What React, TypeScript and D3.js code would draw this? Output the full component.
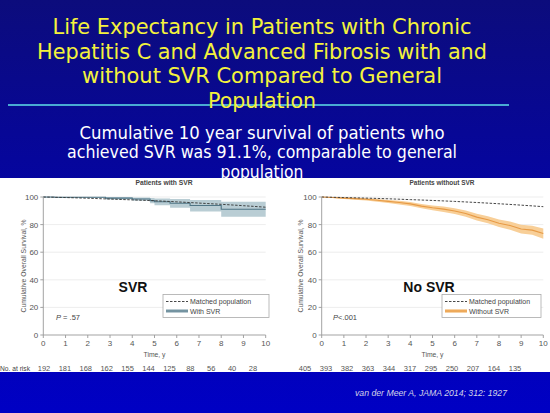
import React from "react";
import * as d3 from "d3";

const W = 550;
const H = 413;

const titleLines = [
  "Life Expectancy in Patients with Chronic",
  "Hepatitis C and Advanced Fibrosis with and",
  "without SVR Compared to General",
  "Population",
];
const subtitleLines = [
  "Cumulative 10 year survival  of patients who",
  "achieved SVR was 91.1%, comparable to general",
  "population",
];

const yearTicks = [0, 1, 2, 3, 4, 5, 6, 7, 8, 9, 10];
const survivalTicks = [0, 20, 40, 60, 80, 100];

const riskSVR = [192, 181, 168, 162, 155, 144, 125, 88, 56, 40, 28];
const riskNoSVR = [405, 393, 382, 363, 344, 317, 295, 250, 207, 164, 135];

// Matched population (expected survival), yearly
const matchedYears = [0, 1, 2, 3, 4, 5, 6, 7, 8, 9, 10];
const matchedSVR = [100, 99.6, 99.1, 98.5, 97.9, 97.3, 96.5, 95.6, 94.7, 93.7, 92.6];
const matchedNoSVR = [100, 99.6, 99.2, 98.7, 98.1, 97.5, 96.8, 96.0, 95.1, 94.1, 93.0];

// Patients with SVR (Kaplan-Meier steps)
const svrTime = [0, 0.5, 2.8, 4.0, 4.8, 5.0, 5.7, 6.6, 8.0, 10];
const svrSurv = [100, 99.8, 99.2, 98.6, 97.4, 96.6, 95.5, 93.8, 91.1, 91.1];
const svrLow = [99.7, 99.3, 98.2, 97.2, 95.4, 94.0, 92.3, 89.5, 85.7, 85.7];
const svrHigh = [100, 100, 100, 99.7, 99.2, 99.0, 98.6, 97.8, 96.6, 96.6];

// Patients without SVR
const noSvrTime = [0, 0.5, 1, 1.5, 2, 2.5, 3, 3.5, 4, 4.5, 5, 5.5, 6, 6.5, 7, 7.5, 8, 8.5, 9, 9.5, 10];
const noSvrSurv = [100, 99.6, 99.2, 98.8, 98.4, 97.6, 96.8, 96.0, 95.0, 93.4, 92.2, 91.2, 89.8, 88.0, 85.4, 83.5, 81.0, 79.3, 76.8, 76.0, 73.5];
const noSvrLow = [100, 99.3, 98.6, 98.0, 97.5, 96.5, 95.6, 94.6, 93.5, 91.8, 90.4, 89.2, 87.7, 85.7, 83.0, 80.9, 78.2, 76.3, 73.6, 72.7, 69.8];
const noSvrHigh = [100, 99.9, 99.7, 99.4, 99.1, 98.5, 97.9, 97.2, 96.4, 95.0, 93.9, 93.1, 91.8, 90.2, 87.8, 86.0, 83.7, 82.2, 79.9, 79.2, 77.1];

type PanelProps = {
  x0: number;
  x1: number;
  title: string;
  titleX: number;
  titleW: number;
  ylabelX: number;
  bigLabel: string;
  bigX: number;
  pLabel: string;
  pX: number;
  legendX: number;
  legendW: number;
  seriesName: string;
  matched: number[];
  time: number[];
  surv: number[];
  low: number[];
  high: number[];
  step: boolean;
  bandColor: string;
  lineColor: string;
  swatchColor: string;
};

const FONT = "'Liberation Sans', Arial, sans-serif";
const y100 = 197;
const y0 = 335;

function Panel(p: PanelProps) {
  const x = d3.scaleLinear().domain([0, 10]).range([p.x0, p.x1]);
  const y = d3.scaleLinear().domain([0, 100]).range([y0, y100]);
  const curve = p.step ? d3.curveStepAfter : d3.curveLinear;
  const idx = p.time.map((_, i) => i);
  const band = d3
    .area<number>()
    .x((i) => x(p.time[i]))
    .y0((i) => y(p.low[i]))
    .y1((i) => y(p.high[i]))
    .curve(curve)(idx);
  const km = d3
    .line<number>()
    .x((i) => x(p.time[i]))
    .y((i) => y(p.surv[i]))
    .curve(curve)(idx);
  const matchedPath = d3
    .line<number>()
    .x((i) => x(matchedYears[i]))
    .y((i) => y(p.matched[i]))
    .curve(d3.curveMonotoneX)(matchedYears.map((_, i) => i));
  const lx = p.legendX;
  return (
    <g>
      <text x={p.titleX} y={185} fontFamily={FONT} fontSize={8} fontWeight="bold" fill="#444" textAnchor="middle" textLength={p.titleW} lengthAdjust="spacingAndGlyphs">
        {p.title}
      </text>
      {survivalTicks.slice(1).map((t) => (
        <line key={"g" + t} x1={p.x0} x2={p.x1} y1={y(t)} y2={y(t)} stroke="#e8e8e8" strokeWidth={0.8} />
      ))}
      <path d={band ?? ""} fill={p.bandColor} />
      <path d={km ?? ""} fill="none" stroke={p.lineColor} strokeWidth={1.1} />
      <path d={matchedPath ?? ""} fill="none" stroke="#333" strokeWidth={0.9} strokeDasharray="2.5,1.5" />
      <line x1={p.x0} x2={p.x0} y1={y(100)} y2={y(0)} stroke="#999" strokeWidth={0.9} />
      <line x1={p.x0} x2={p.x1} y1={y(0)} y2={y(0)} stroke="#999" strokeWidth={0.9} />
      {survivalTicks.map((t) => (
        <g key={"y" + t}>
          <line x1={p.x0 - 3} x2={p.x0} y1={y(t)} y2={y(t)} stroke="#999" strokeWidth={0.9} />
          <text x={p.x0 - 5} y={y(t) + 3} fontFamily={FONT} fontSize={8} fill="#555" textAnchor="end">
            {t}
          </text>
        </g>
      ))}
      {yearTicks.map((t) => (
        <g key={"x" + t}>
          <line x1={x(t)} x2={x(t)} y1={y0} y2={y0 + 3} stroke="#999" strokeWidth={0.9} />
          <text x={x(t)} y={y0 + 11} fontFamily={FONT} fontSize={8} fill="#555" textAnchor="middle">
            {t}
          </text>
        </g>
      ))}
      <text x={(p.x0 + p.x1) / 2} y={357} fontFamily={FONT} fontSize={7.5} fill="#555" textAnchor="middle" textLength={22} lengthAdjust="spacingAndGlyphs">
        Time, y
      </text>
      <text
        transform={`translate(${p.ylabelX},266) rotate(-90)`}
        fontFamily={FONT}
        fontSize={7.5}
        fill="#555"
        textAnchor="middle"
        textLength={93}
        lengthAdjust="spacingAndGlyphs"
      >
        Cumulative Overall Survival, %
      </text>
      <text x={p.bigX} y={291.5} fontFamily={FONT} fontSize={14} fontWeight="bold" fill="#111" textAnchor="middle">
        {p.bigLabel}
      </text>
      <text x={p.pX} y={319.5} fontFamily={FONT} fontSize={7.5} fill="#444">
        <tspan fontStyle="italic">P</tspan>
        {p.pLabel}
      </text>
      <rect x={lx} y={294.5} width={p.legendW} height={23} fill="#fff" stroke="#aaa" strokeWidth={0.8} />
      <line x1={lx + 3} x2={lx + 25} y1={301.5} y2={301.5} stroke="#333" strokeWidth={0.9} strokeDasharray="2.5,1.5" />
      <text x={lx + 27} y={304} fontFamily={FONT} fontSize={7} fill="#444">
        Matched population
      </text>
      <line x1={lx + 3} x2={lx + 25} y1={311} y2={311} stroke={p.swatchColor} strokeWidth={3.2} />
      <line x1={lx + 3} x2={lx + 25} y1={311} y2={311} stroke={p.lineColor} strokeWidth={0.8} />
      <text x={lx + 27} y={313.5} fontFamily={FONT} fontSize={7} fill="#444">
        {p.seriesName}
      </text>
    </g>
  );
}

export default function App() {
  const riskLeft = d3.scaleLinear().domain([0, 10]).range([44, 253]);
  const riskRight = d3.scaleLinear().domain([0, 10]).range([305, 515]);
  const titleWidths = [419, 450, 360, 108];
  const subWidths = [365, 390, 83];
  const titleBase = [34, 58.5, 83, 108];
  const subBase = [138.5, 158, 177.5];
  return (
    <svg width={W} height={H} style={{ position: "fixed", left: 0, top: 0 }} viewBox={`0 0 ${W} ${H}`}>
      <defs>
        <linearGradient id="bg" x1="0" y1="0" x2="0" y2="1">
          <stop offset="0" stopColor="#0c0c7c" />
          <stop offset="0.45" stopColor="#0505a0" />
          <stop offset="1" stopColor="#0000c4" />
        </linearGradient>
      </defs>
      <rect x={0} y={0} width={W} height={H} fill="url(#bg)" />
      <line x1={8} x2={509} y1={105} y2={105} stroke="#5fe0ea" strokeWidth={1.6} />
      {titleLines.map((t, i) => (
        <text
          key={t}
          x={262}
          y={titleBase[i]}
          fontFamily="'Comic Sans MS', 'DejaVu Sans', sans-serif"
          fontSize={21}
          fill="#f4f23c"
          textAnchor="middle"
          textLength={titleWidths[i]}
          lengthAdjust="spacingAndGlyphs"
        >
          {t}
        </text>
      ))}
      {subtitleLines.map((t, i) => (
        <text
          key={t}
          x={262}
          y={subBase[i]}
          fontFamily="'Comic Sans MS', 'DejaVu Sans', sans-serif"
          fontSize={17}
          fill="#ffffff"
          textAnchor="middle"
          textLength={subWidths[i]}
          lengthAdjust="spacingAndGlyphs"
        >
          {t}
        </text>
      ))}
      <rect x={0} y={178} width={W} height={194} fill="#ffffff" />
      <Panel
        x0={43.3}
        x1={265.7}
        title="Patients with SVR"
        titleX={164}
        titleW={57}
        ylabelX={26}
        bigLabel="SVR"
        bigX={133}
        pLabel=" = .57"
        pX={56}
        legendX={163}
        legendW={106}
        seriesName="With SVR"
        matched={matchedSVR}
        time={svrTime}
        surv={svrSurv}
        low={svrLow}
        high={svrHigh}
        step={true}
        bandColor="#b9cdd4"
        lineColor="#4f7585"
        swatchColor="#8ea9b4"
      />
      <Panel
        x0={321.7}
        x1={543.3}
        title="Patients without SVR"
        titleX={442}
        titleW={65}
        ylabelX={303}
        bigLabel="No SVR"
        bigX={429}
        pLabel="<.001"
        pX={333}
        legendX={442}
        legendW={99}
        seriesName="Without SVR"
        matched={matchedNoSVR}
        time={noSvrTime}
        surv={noSvrSurv}
        low={noSvrLow}
        high={noSvrHigh}
        step={false}
        bandColor="#f8cf98"
        lineColor="#e79a45"
        swatchColor="#f2b56a"
      />
      <text x={0} y={371} fontFamily={FONT} fontSize={7.5} fill="#444" textLength={30} lengthAdjust="spacingAndGlyphs">
        No. at risk
      </text>
      {riskSVR.map((v, i) => (
        <text key={"rl" + i} x={riskLeft(i)} y={371} fontFamily={FONT} fontSize={7.5} fill="#555" textAnchor="middle">
          {v}
        </text>
      ))}
      {riskNoSVR.map((v, i) => (
        <text key={"rr" + i} x={riskRight(i)} y={371} fontFamily={FONT} fontSize={7.5} fill="#555" textAnchor="middle">
          {v}
        </text>
      ))}
      <text
        x={507}
        y={396}
        fontFamily={FONT}
        fontSize={9}
        fontStyle="italic"
        fill="#d4d4e8"
        textAnchor="end"
        textLength={152}
        lengthAdjust="spacingAndGlyphs"
      >
        van der Meer A, JAMA 2014; 312: 1927
      </text>
    </svg>
  );
}
